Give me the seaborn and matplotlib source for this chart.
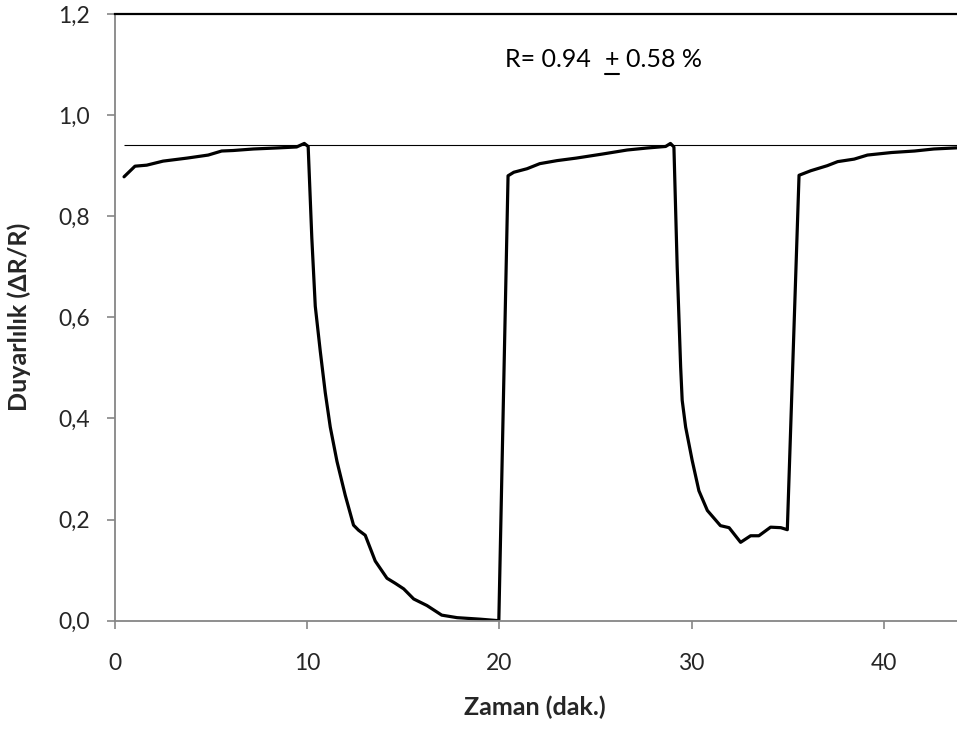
import matplotlib
matplotlib.use("Agg")
import matplotlib.pyplot as plt
from matplotlib.lines import Line2D
import seaborn as sns
import pandas as pd
import numpy as np

# ---- data ----
time_min = [0.47, 1.04, 1.65, 2.5, 3.75, 4.85, 5.55, 6.15, 7.2, 8.4, 9.45, 9.85,
            10.05, 10.24, 10.42, 10.68, 10.94, 11.2, 11.55, 11.98, 12.41, 12.67,
            13.02, 13.54, 14.15, 14.58, 15.02, 15.54, 16.23, 17.0, 17.8, 19.0,
            19.97, 20.45, 20.75, 21.44, 22.1, 23.0, 24.0, 25.36, 26.65, 27.7,
            28.65, 28.9, 29.08, 29.25, 29.43, 29.51, 29.69, 30.03, 30.38, 30.82,
            31.5, 31.95, 32.55, 33.07, 33.5, 34.11, 34.64, 34.98, 35.59, 36.2,
            37.06, 37.6, 38.46, 39.15, 40.4, 41.6, 42.6, 43.66, 44.2]
sensitivity = [0.878, 0.899, 0.901, 0.909, 0.915, 0.921, 0.929, 0.930, 0.933, 0.935,
               0.937, 0.944, 0.938, 0.757, 0.622, 0.533, 0.451, 0.383, 0.315, 0.248,
               0.189, 0.179, 0.169, 0.118, 0.084, 0.074, 0.063, 0.043, 0.030, 0.011,
               0.006, 0.003, 0.0, 0.880, 0.887, 0.894, 0.904, 0.910, 0.915, 0.923,
               0.931, 0.935, 0.938, 0.944, 0.937, 0.700, 0.502, 0.436, 0.383, 0.317,
               0.257, 0.218, 0.188, 0.184, 0.155, 0.168, 0.168, 0.185, 0.184, 0.180,
               0.881, 0.890, 0.900, 0.908, 0.913, 0.921, 0.926, 0.929, 0.933, 0.935,
               0.936]
mean_level = 0.94
x_ticks = [0, 10, 20, 30, 40]
y_ticks = [0.0, 0.2, 0.4, 0.6, 0.8, 1.0, 1.2]
y_tick_labels = ["0,0", "0,2", "0,4", "0,6", "0,8", "1,0", "1,2"]
x_label = "Zaman (dak.)"
y_label = "Duyarlılık (ΔR/R)"

df = pd.DataFrame({"t": time_min, "s": sensitivity})

sns.set_style("white")
plt.rcParams["font.family"] = ["Lato", "DejaVu Sans"]

W, H = 957, 731
fig = plt.figure(figsize=(W / 100, H / 100), dpi=100)
ax_left, ax_right, ax_top, ax_bot = 115, 957, 14, 620.7
ax = fig.add_axes([ax_left / W, (H - ax_bot) / H, (ax_right - ax_left) / W, (ax_bot - ax_top) / H])

sns.lineplot(data=df, x="t", y="s", ax=ax, sort=False, estimator=None,
             color="black", linewidth=2.3)
ax.hlines(mean_level, time_min[0], 45, color="black", linewidth=0.8, zorder=1)

ax.set_xlim(0, (ax_right - ax_left) / 19.22)
ax.set_ylim(0, 1.2)
ax.set_xticks(x_ticks)
ax.set_xticklabels([str(v) for v in x_ticks])
ax.set_yticks(y_ticks)
ax.set_yticklabels(y_tick_labels)

grey = "#868686"
for side in ["left", "bottom"]:
    ax.spines[side].set_color(grey)
    ax.spines[side].set_linewidth(1.3)
ax.spines["right"].set_visible(False)
ax.spines["top"].set_color("black")
ax.spines["top"].set_linewidth(1.6)

tick_fs = 16.5
ax.tick_params(axis="x", direction="out", length=5.5, width=1.2, color=grey,
               labelsize=tick_fs, pad=17.5, bottom=True)
ax.tick_params(axis="y", direction="out", length=6, width=1.2, color=grey,
               labelsize=tick_fs, pad=12, left=True)

lab_fs = 18
ax.set_xlabel(x_label, fontsize=lab_fs, fontweight="bold")
ax.set_ylabel(y_label, fontsize=lab_fs, fontweight="bold")
ax.xaxis.set_label_coords(0.499, -(696 - ax_bot) / (ax_bot - ax_top))
ax.xaxis.label.set_va("top")
ax.yaxis.set_label_coords(-(ax_left - 31) / (ax_right - ax_left), 0.5)

# annotation "R= 0.94  (+ underlined) 0.58 %"
fs = 18
x0 = (505 - ax_left) / 19.22
y0 = (ax_bot - 66.7) / ((ax_bot - ax_top) / 1.2)
t1 = ax.text(x0, y0, "R= 0.94", fontsize=fs, ha="left", va="baseline", color="black")
t2 = ax.annotate("+", xy=(1, 0), xycoords=t1, xytext=(10, 0), textcoords="offset points",
                 fontsize=fs, ha="left", va="bottom", color="black")
ax.annotate("0.58 %", xy=(1, 0), xycoords=t2, xytext=(4.5, 0), textcoords="offset points",
            fontsize=fs, ha="left", va="bottom", color="black")

# underline under the "+" sign (drawn as a line in pixel coordinates)
fig.canvas.draw()
renderer = fig.canvas.get_renderer()
bb = t2.get_window_extent(renderer)
base_px = H - 66.7          # baseline of the annotation in display pixels
ul_y = base_px - 7.5
fig.add_artist(Line2D([bb.x0 + 0.5, bb.x1 - 0.5], [ul_y, ul_y], transform=None,
                      color="black", linewidth=1.5))

fig.savefig("out.png", dpi=100)
